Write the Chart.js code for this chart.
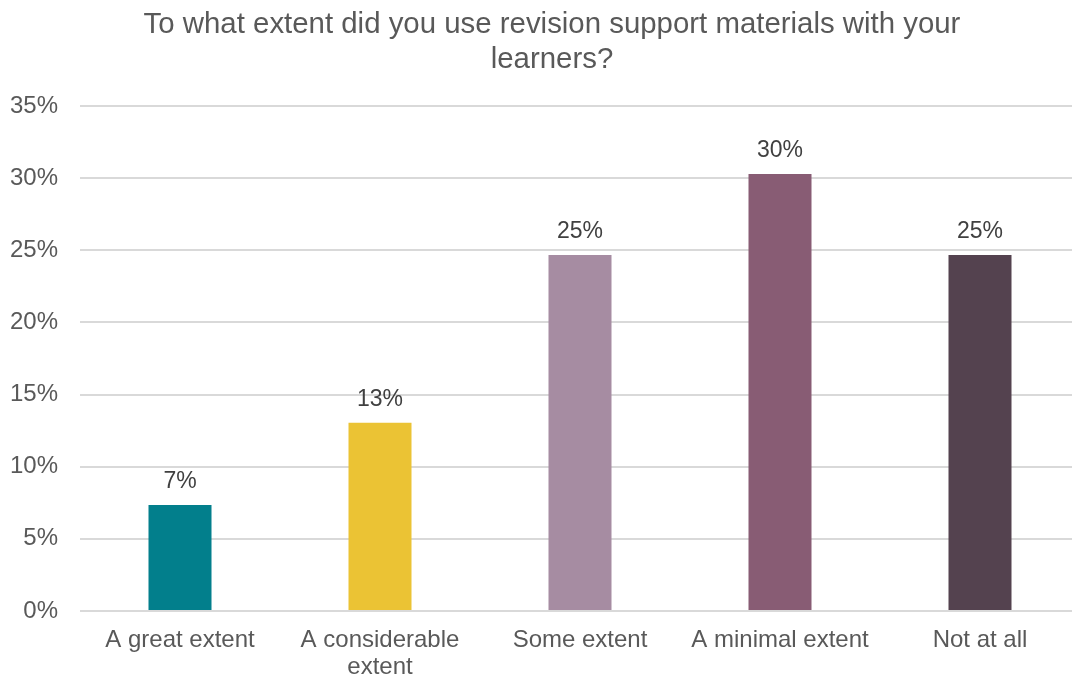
<!DOCTYPE html>
<html>
<head>
<meta charset="utf-8">
<script src="https://cdn.jsdelivr.net/npm/chart.js@4"></script>
<style>
    html, body { margin: 0; padding: 0; background: #ffffff; overflow: hidden; }
    #wrap { width: 1104px; height: 676px; }
</style>
</head>
<body>
<div id="wrap"><canvas id="extentChart" width="1104" height="676"></canvas></div>
<script>
const categories = ["A great extent", ["A considerable", "extent"], "Some extent", "A minimal extent", "Not at all"];
const shares = [7.35, 13.05, 24.67, 30.28, 24.67];
const barColors = ["#027f8c", "#ebc334", "#a68ca2", "#885c74", "#54424f"];
const yTicks = [0, 5, 10, 15, 20, 25, 30, 35];
const titleLines = ["To what extent did you use revision support materials with your", "learners?"];

const FONT = "'Liberation Sans', Arial, sans-serif";

// value labels above each bar
const barLabels = {
    id: "barLabels",
    afterDatasetsDraw(chart) {
        const c = chart.ctx;
        const meta = chart.getDatasetMeta(0);
        c.save();
        c.font = "23px " + FONT;
        c.fillStyle = "#404040";
        c.textAlign = "center";
        c.textBaseline = "alphabetic";
        meta.data.forEach((bar, i) => {
            c.fillText(Math.round(shares[i]) + "%", bar.x, bar.y - 17);
        });
        c.restore();
    },
};

const ctx = document.getElementById("extentChart").getContext("2d");

new Chart(ctx, {
    type: "bar",
    data: {
        labels: categories,
        datasets: [{
            data: shares,
            backgroundColor: barColors,
            borderWidth: 0,
            barPercentage: 0.315,
            categoryPercentage: 1,
        }],
    },
    options: {
        responsive: false,
        animation: false,
        layout: { padding: 0 },
        plugins: {
            legend: { display: false },
            tooltip: { enabled: false },
            title: {
                display: true,
                text: titleLines,
                color: "#595959",
                font: { family: FONT, size: 29.4, weight: "normal", lineHeight: 1.2 },
                padding: { top: 7, bottom: 28.4 },
            },
        },
        scales: {
            x: {
                grid: { display: false },
                border: { display: false },
                ticks: {
                    color: "#595959",
                    font: { family: FONT, size: 24, lineHeight: 1.12 },
                    padding: 8,
                    maxRotation: 0,
                    autoSkip: false,
                },
                afterFit(scale) { scale.height = 65; },
            },
            y: {
                min: 0,
                max: 35,
                afterBuildTicks(scale) {
                    scale.ticks = yTicks.map((v) => ({ value: v }));
                },
                grid: { color: "#d9d9d9", lineWidth: 2, drawTicks: false },
                border: { display: false },
                ticks: {
                    color: "#595959",
                    font: { family: FONT, size: 24 },
                    padding: 22,
                    callback: (v) => v + "%",
                },
                afterFit(scale) { scale.width = 80; },
            },
            // empty right margin strip so the title centres on the full width
            yRight: {
                position: "right",
                min: 0,
                max: 35,
                grid: { display: false },
                border: { display: false },
                ticks: { display: false },
                afterFit(scale) { scale.width = 24; },
            },
        },
    },
    plugins: [barLabels],
});
</script>
</body>
</html>
